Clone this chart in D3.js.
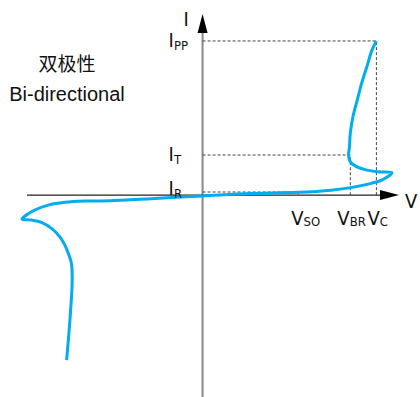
<!DOCTYPE html>
<html lang="en">
<head>
<meta charset="UTF-8">
<script src="https://d3js.org/d3.v7.min.js"></script>
<style>
  body { margin: 0; background: #fff; }
  svg { display: block; }
  .sym { font-family: "DejaVu Sans Condensed", "DejaVu Sans", sans-serif; fill: #111; }
</style>
<title>Bi-directional I-V</title>
</head>
<body>
<div id="chart"></div>
<script>
// I-V curve, voltage units with VC = 10, current units with IPP = 10
const curveV = [-7.82, -7.63, -7.5, -7.55, -7.73, -7.92, -8.21, -8.69, -9.27, -9.84, -10.39,
  -9.65, -8.88, -7.92, -6.76, -5.32, -3.0, 0, 2.77, 5.5, 7.4, 8.6, 9.7, 10.3, 10.9,
  10.1, 9.3, 8.8, 8.5, 8.4, 8.45, 8.5, 8.65, 8.9, 9.15, 9.45, 9.75, 10.0];
const curveI = [-10.7, -8.1, -5.5, -4.4, -3.77, -3.25, -2.71, -2.16, -1.77, -1.62, -1.56,
  -0.97, -0.65, -0.47, -0.39, -0.37, -0.23, -0.06, 0.1, 0.18, 0.32, 0.5, 0.76, 0.97, 1.45,
  1.51, 1.67, 1.88, 2.16, 2.55, 3.14, 4.03, 5.08, 6.17, 7.25, 8.33, 9.42, 10.0];

// characteristic points
const levelNames = ["PP", "T", "R"];
const levelI = [10, 2.6, 0.2];
const levelV = [10, 8.5, 5.5];
const voltNames = ["SO", "BR", "C"];
const voltV = [5.5, 8.5, 10];

const title = ["双极性", "Bi-directional"];

const width = 420, height = 397;
const svg = d3.select("#chart").append("svg")
  .attr("width", width).attr("height", height);

const x = d3.scaleLinear().domain([-10.1, 11.3]).range([27, 399]);
const y = d3.scaleLinear().domain([-13.1, 11.75]).range([397, 14]);

// axes
svg.append("line")
  .attr("x1", x(0)).attr("x2", x(0))
  .attr("y1", y.range()[0]).attr("y2", y.range()[1] + 18)
  .attr("stroke", "#888").attr("stroke-width", 2);
svg.append("path")
  .attr("d", `M${x(0)},${y.range()[1]} L${x(0) - 5},${y.range()[1] + 19} L${x(0) + 5},${y.range()[1] + 19} Z`)
  .attr("fill", "#000");

svg.append("line")
  .attr("x1", x.range()[0]).attr("x2", x.range()[1] - 18)
  .attr("y1", y(0)).attr("y2", y(0))
  .attr("stroke", "#222").attr("stroke-width", 1.2);
svg.append("path")
  .attr("d", `M${x.range()[1]},${y(0)} L${x.range()[1] - 19},${y(0) - 5} L${x.range()[1] - 19},${y(0) + 5} Z`)
  .attr("fill", "#000");

// dashed guides
const guides = svg.append("g")
  .attr("fill", "none").attr("stroke", "#444")
  .attr("stroke-width", 1).attr("stroke-dasharray", "3,2");
levelI.forEach((iv, k) => {
  guides.append("path")
    .attr("d", `M${x(0)},${y(iv)} H${x(levelV[k])} V${y(0)}`);
});

// curve
const pts = curveV.map((v, k) => [v, curveI[k]]);
svg.append("path")
  .datum(pts)
  .attr("fill", "none")
  .attr("stroke", "#00aeef")
  .attr("stroke-width", 3)
  .attr("stroke-linejoin", "round")
  .attr("d", d3.line().x(d => x(d[0])).y(d => y(d[1])).curve(d3.curveCatmullRom.alpha(0.5)));

// labels
svg.append("text").attr("class", "sym")
  .attr("x", x(0) - 19).attr("y", 26).attr("font-size", 20).text("I");
svg.append("text").attr("class", "sym")
  .attr("x", 405).attr("y", y(0) + 13).attr("font-size", 20).text("V");

levelI.forEach((iv, k) => {
  const t = svg.append("text").attr("class", "sym")
    .attr("x", x(0) - 34).attr("y", y(iv) + 6 - (k === 2 ? 3 : 0))
    .attr("font-size", 20);
  t.append("tspan").text("I");
  t.append("tspan").attr("font-size", 13).attr("dy", 3).text(levelNames[k]);
});

const vOffset = [-7, -13, -9];
voltV.forEach((vv, k) => {
  const t = svg.append("text").attr("class", "sym")
    .attr("x", x(vv) + vOffset[k]).attr("y", y(0) + 30)
    .attr("font-size", 20);
  t.append("tspan").text("V");
  t.append("tspan").attr("font-size", 13).attr("dy", 1).text(voltNames[k]);
});

svg.append("text")
  .attr("x", 67).attr("y", 71).attr("text-anchor", "middle")
  .attr("font-family", "Noto Sans CJK SC").attr("font-size", 19)
  .attr("fill", "#111").text(title[0]);
svg.append("text")
  .attr("x", 67).attr("y", 101).attr("text-anchor", "middle")
  .attr("font-family", "Liberation Sans, Arial, sans-serif").attr("font-size", 20)
  .attr("fill", "#111").text(title[1]);
</script>
</body>
</html>
